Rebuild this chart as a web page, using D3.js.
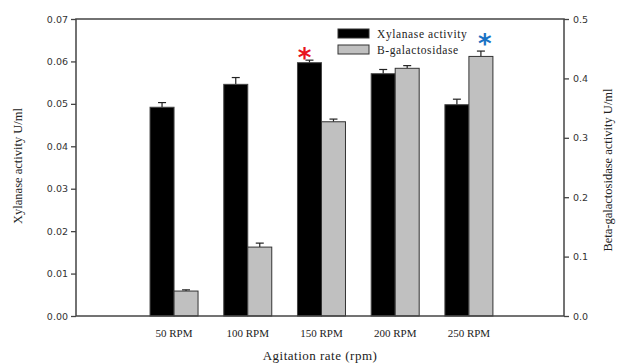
<!DOCTYPE html>
<html><head><meta charset="utf-8">
<script src="https://cdn.jsdelivr.net/npm/d3@7"></script>
<style>body{margin:0;background:#fff}</style>
</head><body>
<svg id="c" width="621" height="364"></svg>
<script>
const categories = ["50 RPM","100 RPM","150 RPM","200 RPM","250 RPM"];
const xylanase = [0.0492, 0.0546, 0.0597, 0.0571, 0.0498];
const xylanaseErr = [0.0011, 0.0016, 0.0006, 0.0010, 0.0013];
const bgal = [0.042, 0.116, 0.327, 0.417, 0.437];
const bgalErr = [0.002, 0.0067, 0.0045, 0.0045, 0.009];
const leftTicks = [0,0.01,0.02,0.03,0.04,0.05,0.06,0.07];
const rightTicks = [0,0.1,0.2,0.3,0.4,0.5];
const seriesNames = ["Xylanase activity","B-galactosidase"];

const svg = d3.select("#c");
const L=76,R=564,T=19,B=316;
const x = d3.scaleLinear().domain([-0.33,6.29]).range([L,R]);
const yL = d3.scaleLinear().domain([0,0.07]).range([B,T]);
const yR = d3.scaleLinear().domain([0,0.5]).range([B,T]);
const bw = 24;
const ax="#444";

// bars
const g = svg.append("g");
categories.forEach((c,i)=>{
  const cx = x(i+1);
  // xylanase
  g.append("line").attr("x1",cx-bw/2).attr("x2",cx-bw/2).attr("y1",yL(xylanase[i])).attr("y2",yL(xylanase[i]+xylanaseErr[i])).attr("stroke","#222").attr("stroke-width",1.2);
  g.append("line").attr("x1",cx-bw/2-4).attr("x2",cx-bw/2+4).attr("y1",yL(xylanase[i]+xylanaseErr[i])).attr("y2",yL(xylanase[i]+xylanaseErr[i])).attr("stroke","#222").attr("stroke-width",1.2);
  g.append("rect").attr("x",cx-bw).attr("y",yL(xylanase[i])).attr("width",bw).attr("height",B-yL(xylanase[i])).attr("fill","#000").attr("stroke","#444").attr("stroke-width",1);
  // bgal
  g.append("line").attr("x1",cx+bw/2).attr("x2",cx+bw/2).attr("y1",yR(bgal[i])).attr("y2",yR(bgal[i]+bgalErr[i])).attr("stroke","#222").attr("stroke-width",1.2);
  g.append("line").attr("x1",cx+bw/2-4).attr("x2",cx+bw/2+4).attr("y1",yR(bgal[i]+bgalErr[i])).attr("y2",yR(bgal[i]+bgalErr[i])).attr("stroke","#222").attr("stroke-width",1.2);
  g.append("rect").attr("x",cx).attr("y",yR(bgal[i])).attr("width",bw).attr("height",B-yR(bgal[i])).attr("fill","#c0c0c0").attr("stroke","#333").attr("stroke-width",1);
  // x labels
  svg.append("text").attr("x",cx).attr("y",337).attr("text-anchor","middle")
    .attr("font-family","Liberation Serif").attr("font-size",11).attr("fill","#222").text(c);
});

// frame
svg.append("rect").attr("x",L).attr("y",T).attr("width",R-L).attr("height",B-T).attr("fill","none").attr("stroke",ax).attr("stroke-width",1.5);

// left axis
const la = svg.append("g").attr("transform",`translate(${L},0)`)
  .call(d3.axisLeft(yL).tickValues(leftTicks).tickFormat(d3.format(".2f")).tickSize(5).tickPadding(3));
const ra = svg.append("g").attr("transform",`translate(${R},0)`)
  .call(d3.axisRight(yR).tickValues(rightTicks).tickFormat(d3.format(".1f")).tickSize(5).tickPadding(4));
[la,ra].forEach(a=>{
  a.select(".domain").remove();
  a.selectAll(".tick line").attr("stroke",ax).attr("stroke-width",1.3);
  a.selectAll(".tick text").attr("font-family","DejaVu Sans").attr("font-size",9.5).attr("fill","#333");
});

// axis titles
svg.append("text").attr("transform","translate(22,166) rotate(-90)").attr("text-anchor","middle")
  .attr("font-family","Liberation Serif").attr("font-size",12.5).attr("fill","#222").text("Xylanase activity U/ml");
svg.append("text").attr("transform","translate(612,170) rotate(-90)").attr("text-anchor","middle")
  .attr("font-family","Liberation Serif").attr("font-size",12.5).attr("fill","#222").text("Beta-galactosidase activity U/ml");
svg.append("text").attr("x",320).attr("y",360).attr("text-anchor","middle")
  .attr("font-family","Liberation Serif").attr("font-size",13).attr("fill","#222").attr("letter-spacing",0.5).text("Agitation rate (rpm)");

// legend
const fills=["#000","#c0c0c0"];
seriesNames.forEach((s,i)=>{
  const yy = 29 + i*16;
  svg.append("rect").attr("x",338).attr("y",yy).attr("width",31).attr("height",9).attr("fill",fills[i]).attr("stroke","#333").attr("stroke-width",1);
  svg.append("text").attr("x",377).attr("y",yy+8.5).attr("font-family","Liberation Serif").attr("font-size",11.5).attr("letter-spacing",0.6).attr("fill","#222").text(s);
});

// asterisks
svg.append("text").attr("x",x(3)-17).attr("y",yL(xylanase[2]+xylanaseErr[2])+7).attr("text-anchor","middle")
  .attr("font-family","DejaVu Sans").attr("font-size",26).attr("font-weight","bold").attr("fill","#e8141e").text("*");
svg.append("text").attr("x",x(5)+bw/2+4).attr("y",yR(bgal[4]+bgalErr[4])+2).attr("text-anchor","middle")
  .attr("font-family","DejaVu Sans").attr("font-size",26).attr("font-weight","bold").attr("fill","#1a72c4").text("*");
</script>
</body></html>
